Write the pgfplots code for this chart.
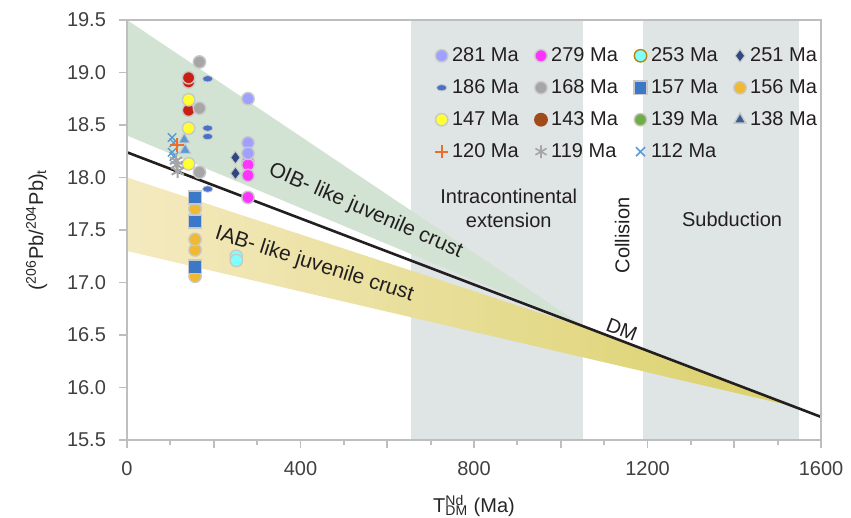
\documentclass[border=0pt]{standalone}
\usepackage{fontspec}
\setmainfont{Liberation Sans}
\usepackage{pgfplots}
\pgfplotsset{compat=1.18}
\definecolor{ink}{RGB}{35,31,32}
\definecolor{axgray}{RGB}{190,190,190}
\definecolor{bord}{RGB}{200,200,200}
\definecolor{bandgray}{RGB}{223,228,228}
\definecolor{oibgreen}{RGB}{211,227,211}
\definecolor{yelL}{RGB}{244,234,192}
\definecolor{yelR}{RGB}{218,208,105}
\definecolor{cA}{RGB}{160,160,255}
\definecolor{cB}{RGB}{255,51,255}
\definecolor{cC}{RGB}{128,255,255}
\definecolor{cCb}{RGB}{184,134,11}
\definecolor{cD}{RGB}{47,72,130}
\definecolor{cE}{RGB}{74,112,200}
\definecolor{cF}{RGB}{166,166,166}
\definecolor{cG}{RGB}{60,120,200}
\definecolor{cH}{RGB}{240,185,50}
\definecolor{cI}{RGB}{255,255,51}
\definecolor{cJ}{RGB}{160,75,25}
\definecolor{cJd}{RGB}{200,30,20}
\definecolor{cK}{RGB}{112,173,71}
\definecolor{cL}{RGB}{55,96,146}
\definecolor{cLd}{RGB}{91,155,213}
\definecolor{cM}{RGB}{237,110,40}
\definecolor{cN}{RGB}{165,165,165}
\definecolor{cO}{RGB}{91,155,213}
\newcommand{\lab}{\fontsize{10}{12}\selectfont}
\newcommand{\crust}{\fontsize{10.5}{12}\selectfont}
\begin{document}
\begin{tikzpicture}
\useasboundingbox (-63.5pt,-39pt) rectangle (362pt,220pt);
\begin{axis}[
  scale only axis,
  width=347pt,height=210pt,
  xmin=0,xmax=1600,ymin=15.5,ymax=19.5,
  axis on top,
  axis line style={axgray,line width=0.9pt},
  tick style={axgray,line width=0.9pt},
  tick align=outside,
  xtick pos=bottom,ytick pos=left,
  xtick={0,200,...,1600},
  xticklabels={0,,400,,800,,1200,,1600},
  minor x tick num=1,
  major tick length=4pt,minor tick length=2.5pt,
  ytick={15.5,16,...,19.5},
  yticklabel style={xshift=-3pt,/pgf/number format/.cd,fixed,fixed zerofill,precision=1},
  /pgf/number format/assume math mode=true,
  tick label style={font=\lab,text=black!75},
  xticklabel style={yshift=-3pt},
  label style={font=\lab,text=black!85},
  xlabel={T\rlap{\textsuperscript{Nd}}\textsubscript{DM} (Ma)},
  xlabel style={yshift=-3pt},
  ylabel={(\textsuperscript{206}Pb/\textsuperscript{204}Pb)\textsubscript{t}},
  ylabel style={yshift=3pt},
  legend columns=4,
  legend cell align=left,
  legend style={at={(0.435,0.955)},anchor=north west,draw=none,fill=none,
    font=\fontsize{10}{12}\selectfont,text=ink,row sep=3.5pt,
    /tikz/every even column/.append style={column sep=6pt}},
]
% tectonic setting bands
\addplot[draw=none,fill=bandgray,forget plot] coordinates {(655,15.5) (1052,15.5) (1052,19.5) (655,19.5)} -- cycle;
\addplot[draw=none,fill=bandgray,forget plot] coordinates {(1190,15.5) (1550,15.5) (1550,19.5) (1190,19.5)} -- cycle;
% OIB-like field
\addplot[draw=none,fill=oibgreen,forget plot] coordinates {(0,19.5) (1050,16.59) (0,18.4)} -- cycle;
% IAB-like field
\addplot[draw=none,left color=yelL,right color=yelR,forget plot] coordinates {(0,18.0) (1100,16.51) (1547,15.81) (0,17.3)} -- cycle;
% DM evolution line
\addplot[ink,line width=1.3pt,forget plot] coordinates {(0,18.24) (1600,15.72)};
% frame on top and right
\draw[axgray,line width=0.9pt] (rel axis cs:0,1) -- (rel axis cs:1,1) -- (rel axis cs:1,0);

\node[font=\crust,text=ink,rotate=-23.5] at (axis cs:550,17.68) {OIB- like juvenile crust};
\node[font=\crust,text=ink,rotate=-17.5] at (axis cs:432,17.17) {IAB- like juvenile crust};
\node[font=\lab,text=ink,rotate=-21] at (axis cs:1141,16.55) {DM};
\node[font=\lab,text=ink,align=center] at (axis cs:880,17.71) {Intracontinental\\extension};
\node[font=\lab,text=ink,rotate=90] at (axis cs:1142,17.45) {Collision};
\node[font=\lab,text=ink] at (axis cs:1395,17.6) {Subduction};

% samples
\addplot[only marks,forget plot,mark=*,mark size=3.1pt,mark options={fill=cH,draw=bord,line width=0.7pt}]
  coordinates {(157,17.06) (157,17.31) (157,17.41) (157,17.70)};
\addplot[only marks,forget plot,mark=square*,mark size=3.3pt,mark options={fill=cG,draw=bord,line width=0.7pt}]
  coordinates {(157,17.15) (157,17.58) (157,17.81)};
\addplot[only marks,forget plot,mark=*,mark size=3.1pt,mark options={fill=cC,draw=bord,line width=0.7pt}]
  coordinates {(252,17.25) (252,17.21)};
\addplot[only marks,forget plot,mark=*,mark size=3.1pt,mark options={fill=cJd,draw=bord,line width=0.7pt}]
  coordinates {(142,18.91) (142,18.95) (142,18.64)};
\addplot[only marks,forget plot,mark=*,mark size=3.1pt,mark options={fill=cF,draw=bord,line width=0.7pt}]
  coordinates {(167,19.10) (167,18.66) (167,18.05)};
\addplot[only marks,forget plot,mark=*,mark size=3.1pt,mark options={fill=cI,draw=bord,line width=0.7pt}]
  coordinates {(142,18.74) (142,18.47) (142,18.13)};
\addplot[only marks,forget plot,mark=*,mark size=2pt,mark options={fill=cE,draw=bord,line width=0.4pt,xscale=1.3,yscale=0.8}]
  coordinates {(186,18.94) (186,18.47) (186,18.39) (186,17.89)};
\addplot[only marks,forget plot,mark=*,mark size=3.1pt,mark options={fill=cB,draw=bord,line width=0.7pt}]
  coordinates {(279,18.15) (279,18.12) (279,18.02) (279,17.81)};
\addplot[only marks,forget plot,mark=*,mark size=3.1pt,mark options={fill=cA,draw=bord,line width=0.7pt}]
  coordinates {(279,18.75) (279,18.33) (279,18.23)};
\addplot[only marks,forget plot,mark=diamond*,mark size=3.2pt,mark options={fill=cD,draw=bord,line width=0.5pt}]
  coordinates {(250,18.19) (250,18.04)};
\addplot[only marks,forget plot,color=cO,mark=x,mark size=3pt,mark options={line width=0.7pt}]
  coordinates {(104,18.38) (108,18.33) (104,18.24) (108,18.20)};
\addplot[only marks,forget plot,mark=triangle*,mark size=3.2pt,mark options={fill=cLd,draw=bord,line width=0.5pt}]
  coordinates {(132,18.36) (134,18.26)};
\addplot[only marks,forget plot,color=cN,mark=asterisk,mark size=3.5pt,mark options={line width=1pt}]
  coordinates {(115,18.12) (117,18.06) (113,18.16)};
\addplot[only marks,forget plot,color=cM,mark=+,mark size=3.5pt,mark options={line width=1pt}]
  coordinates {(115,18.31)};

% legend
\addlegendimage{only marks,mark=*,mark size=3.1pt,mark options={fill=cA,draw=bord,line width=0.7pt}}
\addlegendentry{281 Ma}
\addlegendimage{only marks,mark=*,mark size=3.1pt,mark options={fill=cB,draw=bord,line width=0.7pt}}
\addlegendentry{279 Ma}
\addlegendimage{only marks,mark=*,mark size=3.1pt,mark options={fill=cC,draw=cCb,line width=0.7pt}}
\addlegendentry{253 Ma}
\addlegendimage{only marks,mark=diamond*,mark size=3.2pt,mark options={fill=cD,draw=bord,line width=0.5pt}}
\addlegendentry{251 Ma}
\addlegendimage{only marks,mark=*,mark size=2pt,mark options={fill=cE,draw=bord,line width=0.4pt,xscale=1.3,yscale=0.8}}
\addlegendentry{186 Ma}
\addlegendimage{only marks,mark=*,mark size=3.1pt,mark options={fill=cF,draw=bord,line width=0.7pt}}
\addlegendentry{168 Ma}
\addlegendimage{only marks,mark=square*,mark size=3.3pt,mark options={fill=cG,draw=bord,line width=0.7pt}}
\addlegendentry{157 Ma}
\addlegendimage{only marks,mark=*,mark size=3.1pt,mark options={fill=cH,draw=bord,line width=0.7pt}}
\addlegendentry{156 Ma}
\addlegendimage{only marks,mark=*,mark size=3.1pt,mark options={fill=cI,draw=bord,line width=0.7pt}}
\addlegendentry{147 Ma}
\addlegendimage{only marks,mark=*,mark size=3.1pt,mark options={fill=cJ,draw=cJ,line width=0.7pt}}
\addlegendentry{143 Ma}
\addlegendimage{only marks,mark=*,mark size=3.1pt,mark options={fill=cK,draw=bord,line width=0.7pt}}
\addlegendentry{139 Ma}
\addlegendimage{only marks,mark=triangle*,mark size=3.4pt,mark options={fill=cL,draw=bord,line width=0.7pt}}
\addlegendentry{138 Ma}
\addlegendimage{only marks,mark=+,mark size=3.2pt,mark options={draw=cM,line width=1.1pt}}
\addlegendentry{120 Ma}
\addlegendimage{only marks,mark=asterisk,mark size=3.2pt,mark options={draw=cN,line width=0.8pt}}
\addlegendentry{119 Ma}
\addlegendimage{only marks,mark=x,mark size=3.2pt,mark options={draw=cO,line width=0.8pt}}
\addlegendentry{112 Ma}
\end{axis}
\end{tikzpicture}
\end{document}
